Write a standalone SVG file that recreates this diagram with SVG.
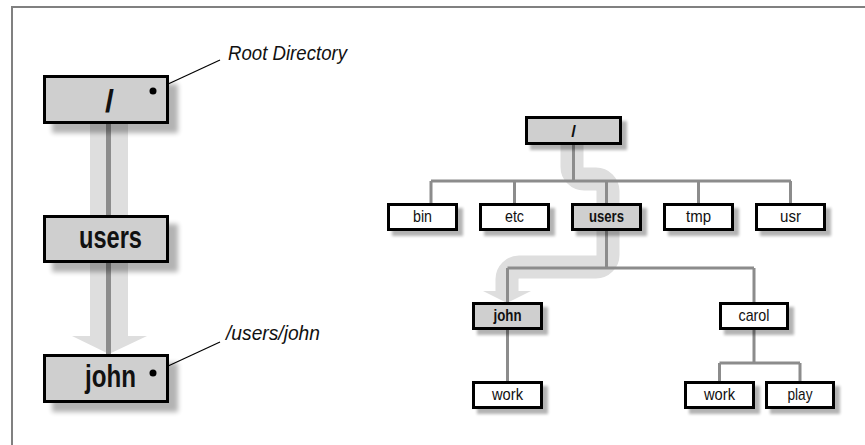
<svg xmlns="http://www.w3.org/2000/svg" width="865" height="445" viewBox="0 0 865 445">
<style>
.frame{stroke:#808080;stroke-width:2;fill:none}
.big{fill:#cfcfcf;stroke:#000;stroke-width:3;filter:url(#shBig)}
.sm{fill:#fff;stroke:#000;stroke-width:3;filter:url(#shSm)}
.smg{fill:#cfcfcf;stroke:#000;stroke-width:3;filter:url(#shSm)}
.tree{stroke:#8c8c8c;stroke-width:3;fill:none}
.band{stroke:#dedede;fill:none}
.bandfill{fill:#dedede}
.lbl{font-family:"Liberation Sans Narrow","Liberation Sans",Arial,sans-serif;font-size:17px;fill:#111;text-anchor:middle}
.lblb{font-family:"Liberation Sans Narrow","Liberation Sans",Arial,sans-serif;font-size:17px;font-weight:bold;fill:#111;text-anchor:middle}
.biglbl{font-family:"Liberation Sans Narrow","Liberation Sans",Arial,sans-serif;font-size:32px;font-weight:bold;fill:#111;text-anchor:middle}
.note{font-family:"Liberation Sans Narrow","Liberation Sans",Arial,sans-serif;font-size:20px;font-style:italic;fill:#111}
.lead{stroke:#000;stroke-width:1.2;fill:none}
</style>
<defs>
<filter id="shSm" x="-20%" y="-30%" width="150%" height="180%">
<feGaussianBlur in="SourceAlpha" stdDeviation="1.5"/>
<feOffset dx="5" dy="5"/>
<feComponentTransfer><feFuncA type="linear" slope="0.3"/></feComponentTransfer>
<feMerge><feMergeNode/><feMergeNode in="SourceGraphic"/></feMerge>
</filter>
<filter id="shBig" x="-20%" y="-30%" width="150%" height="180%">
<feGaussianBlur in="SourceAlpha" stdDeviation="2.5"/>
<feOffset dx="9" dy="9"/>
<feComponentTransfer><feFuncA type="linear" slope="0.3"/></feComponentTransfer>
<feMerge><feMergeNode/><feMergeNode in="SourceGraphic"/></feMerge>
</filter>
</defs>
<rect width="865" height="445" fill="#fff"/>
<path class="frame" d="M12 445 V7 H865"/>

<g id="connectors">
<!-- left path highlight -->
<rect class="bandfill" x="90" y="124" width="38" height="212"/>
<polygon class="bandfill" points="72,336 147,336 109,354"/>
<line class="tree" x1="108.5" y1="124" x2="108.5" y2="215" style="stroke-width:5"/>
<line class="tree" x1="108.5" y1="263" x2="108.5" y2="354" style="stroke-width:5"/>
<!-- right path highlight -->
<path class="band" stroke-width="23" d="M572 145 V167 A12 12 0 0 0 584 179 H596 A12 12 0 0 1 608 191 V255 A12 12 0 0 1 596 267 H519 A12 12 0 0 0 507 279 V292"/>
<polygon class="bandfill" points="483,291 531,291 507,303"/>
<!-- tree lines -->
<path class="tree" d="M573.5 145 V181 M431 181 H791 M431 181 V203 M514.5 181 V203 M606.5 181 V203 M698.5 181 V203 M790.5 181 V203"/>
<path class="tree" d="M606.5 231 V268 M507.5 268 H754 M507.5 268 V302 M754 268 V302"/>
<path class="tree" d="M507.5 330 V381 M754 330 V363 M719.5 363 H800 M719.5 363 V381 M800 363 V381"/>
<!-- leaders -->
<line class="lead" x1="153" y1="91" x2="220" y2="60"/>
<line class="lead" x1="153" y1="373" x2="220" y2="342"/>
</g>

<g id="left-root">
<rect class="big" x="44.5" y="76.5" width="123" height="46"/>
<text class="biglbl" x="109.5" y="112">/</text>
<circle cx="153" cy="91" r="3.5" fill="#000"/>
</g>
<g id="left-users">
<rect class="big" x="44.5" y="216.5" width="123" height="45"/>
<text class="biglbl" x="110.5" y="248" textLength="63" lengthAdjust="spacingAndGlyphs">users</text>
</g>
<g id="left-john">
<rect class="big" x="44.5" y="355.5" width="123" height="46"/>
<text class="biglbl" x="110.5" y="387" textLength="51" lengthAdjust="spacingAndGlyphs">john</text>
<circle cx="153" cy="373" r="3.5" fill="#000"/>
</g>
<g id="note-root">
<text class="note" x="228" y="60" textLength="119" lengthAdjust="spacingAndGlyphs">Root Directory</text>
</g>
<g id="note-john">
<text class="note" x="226" y="340" textLength="94" lengthAdjust="spacingAndGlyphs">/users/john</text>
</g>

<g id="t-root">
<rect class="smg" x="526.5" y="117.5" width="94" height="26"/>
<text class="lblb" x="573.5" y="137">/</text>
</g>
<g id="t-bin">
<rect class="sm" x="388.5" y="204.5" width="68" height="25"/>
<text class="lbl" x="422.5" y="222" textLength="19" lengthAdjust="spacingAndGlyphs">bin</text>
</g>
<g id="t-etc">
<rect class="sm" x="480.5" y="204.5" width="68" height="25"/>
<text class="lbl" x="514.5" y="222" textLength="19" lengthAdjust="spacingAndGlyphs">etc</text>
</g>
<g id="t-users">
<rect class="smg" x="572.5" y="204.5" width="68" height="25"/>
<text class="lblb" x="606.5" y="222" textLength="35" lengthAdjust="spacingAndGlyphs">users</text>
</g>
<g id="t-tmp">
<rect class="sm" x="664.5" y="204.5" width="68" height="25"/>
<text class="lbl" x="698.5" y="222" textLength="25" lengthAdjust="spacingAndGlyphs">tmp</text>
</g>
<g id="t-usr">
<rect class="sm" x="756.5" y="204.5" width="68" height="25"/>
<text class="lbl" x="790.5" y="222" textLength="21" lengthAdjust="spacingAndGlyphs">usr</text>
</g>
<g id="t-john">
<rect class="smg" x="473.5" y="303.5" width="68" height="25"/>
<text class="lblb" x="507.5" y="321" textLength="28" lengthAdjust="spacingAndGlyphs">john</text>
</g>
<g id="t-carol">
<rect class="sm" x="720.5" y="303.5" width="67" height="25"/>
<text class="lbl" x="754" y="321" textLength="31" lengthAdjust="spacingAndGlyphs">carol</text>
</g>
<g id="t-john-work">
<rect class="sm" x="473.5" y="382.5" width="68" height="25"/>
<text class="lbl" x="507.5" y="400" textLength="31" lengthAdjust="spacingAndGlyphs">work</text>
</g>
<g id="t-carol-work">
<rect class="sm" x="685.5" y="382.5" width="68" height="25"/>
<text class="lbl" x="719.5" y="400" textLength="31" lengthAdjust="spacingAndGlyphs">work</text>
</g>
<g id="t-carol-play">
<rect class="sm" x="766.5" y="382.5" width="67" height="25"/>
<text class="lbl" x="800" y="400" textLength="25" lengthAdjust="spacingAndGlyphs">play</text>
</g>
</svg>
